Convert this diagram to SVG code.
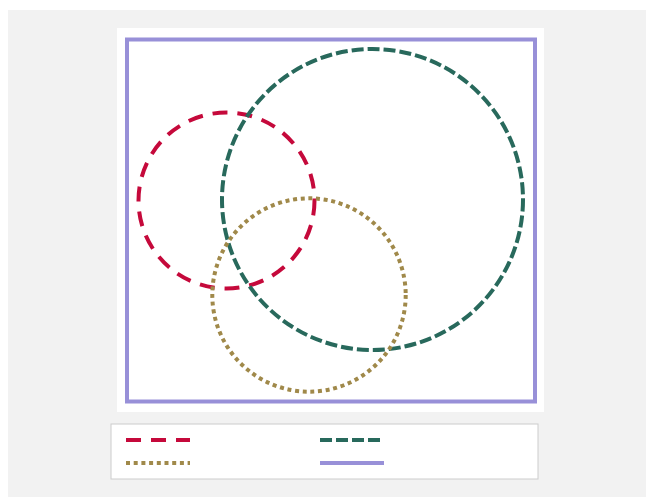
<svg xmlns="http://www.w3.org/2000/svg" width="646" height="497" viewBox="0 0 646 497">
<style>
.red{fill:none;stroke:#c5093b;stroke-width:4;stroke-dasharray:15 10}
.teal{fill:none;stroke:#28695c;stroke-width:4;stroke-dasharray:12 4}
.gold{fill:none;stroke:#a0894a;stroke-width:4;stroke-dasharray:4 3.7}
.purple{fill:none;stroke:#9890d8;stroke-width:4}
</style>
<rect x="0" y="0" width="646" height="497" fill="#ffffff"/>
<rect x="8" y="10" width="638" height="487" fill="#f2f2f2"/>
<rect x="117" y="28" width="427" height="384" fill="#ffffff"/>
<g id="frame"><rect class="purple" x="127" y="39.5" width="408" height="362"/></g>
<g id="circle-red"><circle class="red" cx="226.5" cy="200.5" r="88"/></g>
<g id="circle-teal"><circle class="teal" cx="372.5" cy="199.5" r="150.5"/></g>
<g id="circle-gold"><circle class="gold" cx="309" cy="295" r="96.7"/></g>
<g id="legend">
<rect x="111" y="424" width="427" height="55" fill="#ffffff" stroke="#cccccc" stroke-width="1"/>
<line class="red" x1="126" y1="440" x2="190" y2="440" stroke-dasharray="16 11"/>
<line class="teal" x1="320" y1="440" x2="384" y2="440" stroke-dasharray="12.3 3.7"/>
<line class="gold" x1="126" y1="463" x2="190" y2="463"/>
<line class="purple" x1="320" y1="463" x2="384" y2="463"/>
</g>
</svg>
